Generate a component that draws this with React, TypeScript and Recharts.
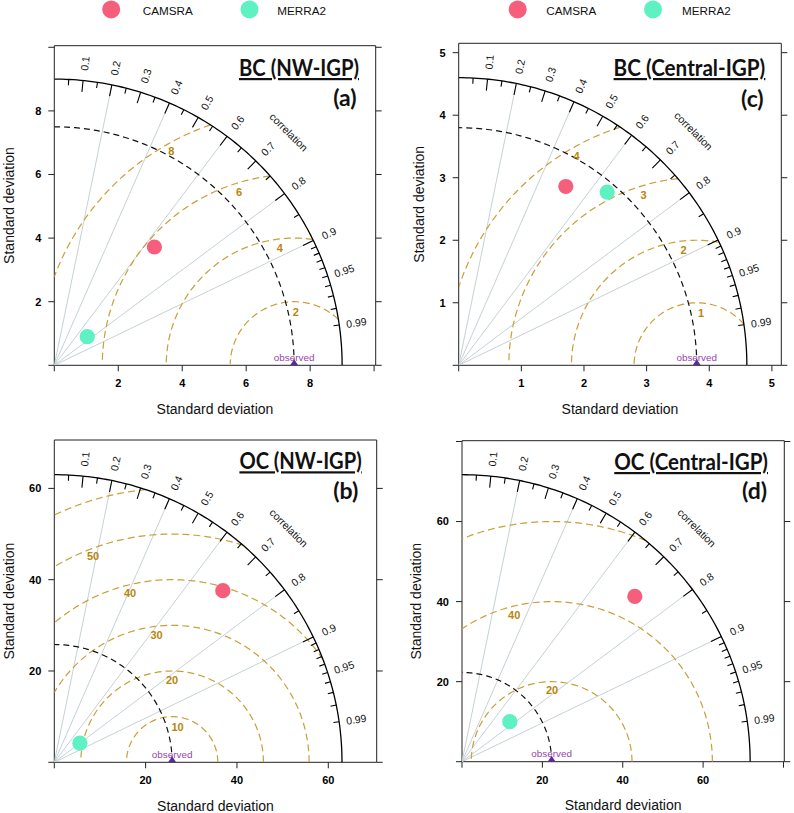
import React from 'react';
import { ScatterChart, Scatter, XAxis, YAxis } from 'recharts';

// ---------- data ----------
const panelTitles = ['BC (NW-IGP)', 'OC (NW-IGP)', 'BC (Central-IGP)', 'OC (Central-IGP)'];
const panelTags = ['(a)', '(b)', '(c)', '(d)'];
const seriesNames = ['CAMSRA', 'MERRA2'];

// model points (x = sd * corr, y = sd * sqrt(1 - corr^2))
const camsraX = [3.13, 36.9, 1.71, 43.0];
const camsraY = [3.72, 37.6, 2.86, 41.3];
const merra2X = [1.03, 5.6, 2.37, 11.9];
const merra2Y = [0.9, 4.2, 2.77, 10.0];

const observedSd = [7.5, 25.8, 3.8, 22.3];
const maxSd = [9, 63, 4.6, 71.7];
const axisLimit = [10.05, 70.6, 5.15, 80.2];
const axisTicks = [[0, 2, 4, 6, 8, 10], [0, 20, 40, 60], [0, 1, 2, 3, 4, 5], [0, 20, 40, 60, 80]];
const axisTickLabels = [[2, 4, 6, 8], [20, 40, 60], [1, 2, 3, 4, 5], [20, 40, 60]];

const rmsLevels = [[2, 4, 6, 8], [10, 20, 30, 40, 50, 60], [1, 2, 3, 4], [20, 40, 60]];
const rmsLabelLevels = [[2, 4, 6, 8], [10, 20, 30, 40, 50], [1, 2, 3, 4], [20, 40]];
const rmsLabelX = [[7.55, 7.05, 5.78, 3.66], [27.0, 25.8, 22.4, 16.6, 8.5], [3.87, 3.59, 2.95, 1.88], [22.4, 13.0]];
const rmsLabelY = [[1.68, 3.68, 5.44, 6.74], [7.8, 18.0, 27.9, 37.0, 45.1], [0.83, 1.84, 2.73, 3.35], [17.8, 36.6]];

const corrLabels = [0.1, 0.2, 0.3, 0.4, 0.5, 0.6, 0.7, 0.8, 0.9, 0.95, 0.99];
const corrGridLines = [0.2, 0.4, 0.6, 0.8, 0.9];
const corrMajorTicks = [0.1, 0.2, 0.3, 0.4, 0.5, 0.6, 0.7, 0.8, 0.9];
const corrMediumTicks = [0.05, 0.15, 0.25, 0.35, 0.45, 0.55, 0.65, 0.75, 0.85, 0.95];
const corrMinorTicks = [0.91, 0.92, 0.93, 0.94, 0.96, 0.97, 0.98, 0.99];

// ---------- layout ----------
const chartLeft = [0, 0, 397, 397];
const chartTop = [0, 400, 0, 400];
const chartW = 397;
const chartH = [400, 413, 400, 413];
const boxLeft = [54.3, 54.3, 458.7, 462];
const boxTop = [45.7, 440, 43.3, 440.7];
const boxRight = [375.7, 376.7, 781.3, 784.3];
const boxBottom = [365.3, 762.3, 365.3, 761.7];
const titleRight = [359, 361.7, 765.3, 768];
const titleBase = [76, 469.3, 76, 470];
const titleWidth = [120, 122.3, 151.7, 153.7];
const tagRight = [356.7, 358.3, 763.7, 767];
const tagBase = [106, 499.3, 106.7, 499.3];
const yTitleX = [9, 9.2, 419.5, 416];
const legendPanels = [0, 2];
const legendCircleX = [[111.2, 249.5], [0, 0], [517.7, 653], [0, 0]];
const legendTextX = [[142.7, 277.3], [0, 0], [546.3, 682], [0, 0]];

const FONT = "'Liberation Sans', Arial, Helvetica, sans-serif";
const TITLE_FONT = "Lato, 'Open Sans', sans-serif";
const COLORS = ['#f65f7c', '#5ef2c3'];
const GRID = '#c6d1d6';
const GOLD = '#c99f38';
const GOLD_TEXT = '#b8860b';
const Y_W = 40, YR_W = 8, X_H = 30, XT_H = 8;

const NoShape = () => <g />;

const TextShape = (props: any) => {
  const { cx, cy, payload } = props;
  if (cx == null || cy == null) return <g />;
  return (
    <text
      x={cx}
      y={cy}
      transform={`rotate(${payload.rot || 0} ${cx} ${cy})`}
      textAnchor="middle"
      dominantBaseline="central"
      fontSize={payload.fs}
      fontWeight={payload.fw || 'normal'}
      fill={payload.color}
      fontFamily={FONT}
    >
      {payload.text}
    </text>
  );
};

const DotShape = (color: string) => (props: any) => {
  const { cx, cy } = props;
  if (cx == null || cy == null) return <g />;
  return <circle cx={cx} cy={cy} r={7.6} fill={color} />;
};

const ObservedShape = (props: any) => {
  const { cx, cy } = props;
  if (cx == null || cy == null) return <g />;
  return (
    <g>
      <polygon points={`${cx - 4},${cy} ${cx + 4},${cy} ${cx},${cy - 6}`} fill="#5a2a9c" />
      <text x={cx} y={cy - 4.6} textAnchor="middle" fontSize={9.9} fill="#9446aa" fontFamily={FONT}>
        observed
      </text>
    </g>
  );
};

function arcPoints(r: number, cx: number, t0: number, t1: number, n = 90) {
  const out: { x: number; y: number }[] = [];
  for (let k = 0; k <= n; k++) {
    const t = t0 + ((t1 - t0) * k) / n;
    out.push({ x: cx + r * Math.cos(t), y: r * Math.sin(t) });
  }
  return out;
}

function TaylorPanel({ i }: { i: number }) {
  const R = maxSd[i];
  const obs = observedSd[i];
  const lim = axisLimit[i];
  const margin = {
    left: boxLeft[i] - chartLeft[i] - Y_W,
    top: boxTop[i] - chartTop[i] - XT_H,
    right: chartLeft[i] + chartW - boxRight[i] - YR_W,
    bottom: chartTop[i] + chartH[i] - boxBottom[i] - X_H,
  };
  const labeled = axisTickLabels[i];
  const fmt = (v: number) => (labeled.includes(v) ? String(v) : '');

  const radial = corrGridLines.map((c) => [
    { x: 0, y: 0 },
    { x: R * c, y: R * Math.sqrt(1 - c * c) },
  ]);
  const seg = (c: number, f: number) => [
    { x: R * c, y: R * Math.sqrt(1 - c * c) },
    { x: f * R * c, y: f * R * Math.sqrt(1 - c * c) },
  ];
  const ticks = [
    ...corrMajorTicks.map((c) => seg(c, 0.96)),
    ...corrMediumTicks.map((c) => seg(c, 0.98)),
    ...corrMinorTicks.map((c) => seg(c, 0.98)),
  ];
  const contours = rmsLevels[i]
    .map((r) => {
      const c0 = (R * R - obs * obs - r * r) / (2 * obs * r);
      if (c0 <= -1) return null;
      const t0 = c0 >= 1 ? 0 : Math.acos(c0);
      const t1 = r > obs ? Math.acos(-obs / r) : 3.12;
      if (t1 <= t0) return null;
      return arcPoints(r, obs, t0, t1, 80);
    })
    .filter(Boolean) as { x: number; y: number }[][];

  const corrText: any[] = corrLabels.map((c) => ({
    x: 1.06 * R * c,
    y: 1.06 * R * Math.sqrt(1 - c * c),
    text: String(c),
    rot: (-Math.acos(c) * 180) / Math.PI,
    fs: 10.5,
    color: '#111',
  }));
  corrText.push({
    x: 1.153 * R * Math.SQRT1_2,
    y: 1.153 * R * Math.SQRT1_2,
    text: 'correlation',
    rot: 45,
    fs: 10.5,
    color: '#111',
  });
  const rmsText = rmsLabelLevels[i].map((lv, k) => ({
    x: rmsLabelX[i][k],
    y: rmsLabelY[i][k],
    text: String(lv),
    fs: 11,
    fw: 'bold',
    color: GOLD_TEXT,
  }));

  const tickStyle = { fontSize: 11, fontWeight: 700, fill: '#000', fontFamily: FONT };

  return (
    <div style={{ position: 'absolute', left: chartLeft[i], top: chartTop[i] }}>
      <ScatterChart width={chartW} height={chartH[i]} margin={margin}>
        <XAxis
          xAxisId={0}
          type="number"
          dataKey="x"
          domain={[0, lim]}
          ticks={axisTicks[i]}
          interval={0}
          allowDataOverflow
          height={X_H}
          stroke="#222"
          tickSize={6}
          tickMargin={8}
          tick={tickStyle}
          tickFormatter={fmt}
        />
        <XAxis
          xAxisId="top"
          orientation="top"
          type="number"
          domain={[0, lim]}
          ticks={axisTicks[i]}
          interval={0}
          allowDataOverflow
          height={XT_H}
          stroke="#222"
          tickSize={6}
          tickFormatter={() => ''}
        />
        <YAxis
          yAxisId={0}
          type="number"
          dataKey="y"
          domain={[0, lim]}
          ticks={axisTicks[i]}
          interval={0}
          allowDataOverflow
          width={Y_W}
          stroke="#222"
          tickSize={6}
          tickMargin={7}
          tick={tickStyle}
          tickFormatter={fmt}
        />
        <YAxis
          yAxisId="right"
          orientation="right"
          type="number"
          domain={[0, lim]}
          ticks={axisTicks[i]}
          interval={0}
          allowDataOverflow
          width={YR_W}
          stroke="#222"
          tickSize={6}
          tickFormatter={() => ''}
        />
        {radial.map((d, k) => (
          <Scatter key={'rad' + k} data={d} line={{ stroke: GRID, strokeWidth: 1 }} shape={NoShape} isAnimationActive={false} />
        ))}
        {contours.map((d, k) => (
          <Scatter
            key={'rms' + k}
            data={d}
            line={{ stroke: GOLD, strokeWidth: 1.2, strokeDasharray: '7 4' }}
            shape={NoShape}
            isAnimationActive={false}
          />
        ))}
        <Scatter
          data={arcPoints(obs, 0, 0, Math.PI / 2, 90)}
          line={{ stroke: '#111', strokeWidth: 1.2, strokeDasharray: '6 4' }}
          shape={NoShape}
          isAnimationActive={false}
        />
        <Scatter
          data={arcPoints(R, 0, 0, Math.PI / 2, 120)}
          line={{ stroke: '#000', strokeWidth: 1.3 }}
          shape={NoShape}
          isAnimationActive={false}
        />
        {ticks.map((d, k) => (
          <Scatter key={'tk' + k} data={d} line={{ stroke: '#000', strokeWidth: 1.1 }} shape={NoShape} isAnimationActive={false} />
        ))}
        <Scatter data={corrText} shape={TextShape} isAnimationActive={false} />
        <Scatter data={rmsText} shape={TextShape} isAnimationActive={false} />
        <Scatter data={[{ x: obs, y: 0 }]} shape={ObservedShape} isAnimationActive={false} />
        <Scatter name={seriesNames[0]} data={[{ x: camsraX[i], y: camsraY[i] }]} shape={DotShape(COLORS[0])} isAnimationActive={false} />
        <Scatter name={seriesNames[1]} data={[{ x: merra2X[i], y: merra2Y[i] }]} shape={DotShape(COLORS[1])} isAnimationActive={false} />
      </ScatterChart>
    </div>
  );
}

export default function App() {
  const idx = [0, 1, 2, 3];
  return (
    <div style={{ position: 'absolute', left: 0, top: 0, width: 794, height: 813, background: '#fff', overflow: 'hidden' }}>
      {idx.map((i) => (
        <TaylorPanel key={i} i={i} />
      ))}
      <svg width={794} height={813} style={{ position: 'absolute', left: 0, top: 0, pointerEvents: 'none' }}>
        {idx.map((i) => {
          const cxm = (boxLeft[i] + boxRight[i]) / 2;
          const cym = (boxTop[i] + boxBottom[i]) / 2;
          return (
            <g key={i}>
              <text
                x={titleRight[i]}
                y={titleBase[i]}
                textAnchor="end"
                fontFamily={TITLE_FONT}
                fontWeight={700}
                fontSize={22}
                textLength={titleWidth[i]}
                lengthAdjust="spacingAndGlyphs"
                fill="#111"
                style={{ textDecoration: 'underline' }}
              >
                {panelTitles[i]}
              </text>
              <text x={tagRight[i]} y={tagBase[i]} textAnchor="end" fontFamily={TITLE_FONT} fontWeight={700} fontSize={23} fill="#111">
                {panelTags[i]}
              </text>
              <text x={cxm} y={boxBottom[i] + 43.5} textAnchor="middle" dominantBaseline="central" fontFamily={FONT} fontSize={14} fill="#111">
                Standard deviation
              </text>
              <text
                x={yTitleX[i]}
                y={cym}
                transform={`rotate(-90 ${yTitleX[i]} ${cym})`}
                textAnchor="middle"
                dominantBaseline="central"
                fontFamily={FONT}
                fontSize={14}
                fill="#111"
              >
                Standard deviation
              </text>
            </g>
          );
        })}
        {legendPanels.map((p) => (
          <g key={'lg' + p}>
            {seriesNames.map((nm, s) => (
              <g key={nm}>
                <circle cx={legendCircleX[p][s]} cy={9.4} r={9} fill={COLORS[s]} />
                <text x={legendTextX[p][s]} y={10} dominantBaseline="central" fontFamily={FONT} fontSize={11.7} fill="#111">
                  {nm}
                </text>
              </g>
            ))}
          </g>
        ))}
      </svg>
    </div>
  );
}
